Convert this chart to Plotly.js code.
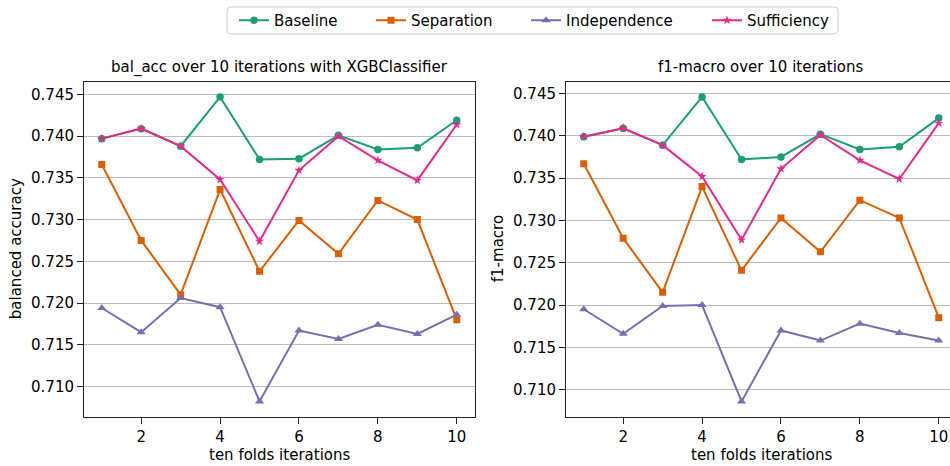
<!DOCTYPE html>
<html>
<head>
<meta charset="utf-8">
<script src="https://cdn.plot.ly/plotly-3.0.1.min.js"></script>
<style>html,body{margin:0;padding:0;background:#fff;}#chart{width:950px;height:466px;}</style>
</head>
<body>
<div id="chart"></div>
<script>
const iterations = [1, 2, 3, 4, 5, 6, 7, 8, 9, 10];
const seriesNames = ["Baseline", "Separation", "Independence", "Sufficiency"];

const balBaseline     = [0.7397, 0.7409, 0.7388, 0.7447, 0.7372, 0.7373, 0.7401, 0.7384, 0.7386, 0.7419];
const balSeparation   = [0.7366, 0.7275, 0.7210, 0.7336, 0.7238, 0.7299, 0.7259, 0.7323, 0.7300, 0.7180];
const balIndependence = [0.7194, 0.7165, 0.7206, 0.7195, 0.7082, 0.7167, 0.7157, 0.7174, 0.7163, 0.7186];
const balSufficiency  = [0.7397, 0.7409, 0.7388, 0.7348, 0.7274, 0.7359, 0.7400, 0.7371, 0.7347, 0.7414];

const f1Baseline      = [0.7399, 0.7409, 0.7389, 0.7446, 0.7372, 0.7375, 0.7402, 0.7384, 0.7387, 0.7421];
const f1Separation    = [0.7367, 0.7279, 0.7215, 0.7340, 0.7241, 0.7303, 0.7263, 0.7324, 0.7303, 0.7185];
const f1Independence  = [0.7195, 0.7166, 0.7199, 0.7200, 0.7086, 0.7170, 0.7158, 0.7178, 0.7167, 0.7158];
const f1Sufficiency   = [0.7399, 0.7409, 0.7389, 0.7352, 0.7277, 0.7361, 0.7401, 0.7371, 0.7349, 0.7415];

const xTicks = [2, 4, 6, 8, 10];
const yTicks = [0.710, 0.715, 0.720, 0.725, 0.730, 0.735, 0.740, 0.745];
const yTickText = ["0.710", "0.715", "0.720", "0.725", "0.730", "0.735", "0.740", "0.745"];

const leftTitle = "bal_acc over 10 iterations with XGBClassifier";
const rightTitle = "f1-macro over 10 iterations";
const xLabel = "ten folds iterations";
const leftYLabel = "balanced accuracy";
const rightYLabel = "f1-macro";

const colors = ["#1b9e77", "#d95f02", "#7570b3", "#e7298a"];
const symbols = ["circle", "square", "triangle-up", "star"];
const sizes = [7.5, 7, 8, 7];
const legendIds = ["legend", "legend2", "legend3", "legend4"];

const W = 950, H = 466;
const px = v => v / W;
const py = v => 1 - v / H;
const FONT = "DejaVu Sans, sans-serif";

function padRange(arrs) {
  const all = [].concat(...arrs);
  const mn = Math.min(...all), mx = Math.max(...all);
  const d = (mx - mn) * 0.05;
  return [mn - d, mx + d];
}

const leftData = [balBaseline, balSeparation, balIndependence, balSufficiency];
const rightData = [f1Baseline, f1Separation, f1Independence, f1Sufficiency];

const traces = [];
leftData.forEach((ys, i) => {
  traces.push({
    x: iterations, y: ys, name: seriesNames[i], type: "scatter", mode: "lines+markers",
    xaxis: "x", yaxis: "y", legend: legendIds[i],
    line: {color: colors[i], width: 2},
    marker: {color: colors[i], symbol: symbols[i], size: sizes[i]},
    hoverinfo: "x+y+name"
  });
});
rightData.forEach((ys, i) => {
  traces.push({
    x: iterations, y: ys, name: seriesNames[i], type: "scatter", mode: "lines+markers",
    xaxis: "x2", yaxis: "y2", showlegend: false,
    line: {color: colors[i], width: 2},
    marker: {color: colors[i], symbol: symbols[i], size: sizes[i]},
    hoverinfo: "x+y+name"
  });
});

const axisCommon = {
  ticks: "outside", ticklen: 6, tickwidth: 1, tickcolor: "#222",
  showline: true, linecolor: "#222", linewidth: 1,
  zeroline: false,
  tickfont: {family: FONT, size: 15, color: "#000"}
};

const plotTop = 81.7, plotBottom = 416.7;
const yDomain = [py(plotBottom), py(plotTop)];
const leftX0 = 84, leftX1 = 474.5, rightX0 = 566;
const xr0 = 0.55, xr1 = 10.45;
const pxPerUnit = (leftX1 - leftX0) / (xr1 - xr0);

const legendTextX = [277, 414, 569, 750];
const legends = {};
legendIds.forEach((id, i) => {
  legends[id] = {
    x: px(legendTextX[i] - 43), y: py(20.5), xanchor: "left", yanchor: "middle",
    orientation: "h", bgcolor: "rgba(0,0,0,0)", borderwidth: 0,
    font: {family: FONT, size: 15, color: "#000"}
  };
});

function roundRectPath(x0, y0, x1, y1, r) {
  const rx = r / W, ry = r / H;
  const X0 = px(x0), X1 = px(x1), Y0 = py(y0), Y1 = py(y1);
  return `M${X0 + rx},${Y0} L${X1 - rx},${Y0} Q${X1},${Y0} ${X1},${Y0 - ry} ` +
         `L${X1},${Y1 + ry} Q${X1},${Y1} ${X1 - rx},${Y1} L${X0 + rx},${Y1} ` +
         `Q${X0},${Y1} ${X0},${Y1 + ry} L${X0},${Y0 - ry} Q${X0},${Y0} ${X0 + rx},${Y0} Z`;
}

const ann = (text, x, y, extra) => Object.assign({
  text, xref: "paper", yref: "paper", x: px(x), y: py(y),
  xanchor: "center", yanchor: "middle", showarrow: false,
  font: {family: FONT, size: 15, color: "#000"}
}, extra || {});

const layout = Object.assign({
  width: W, height: H,
  margin: {l: 0, r: 0, t: 0, b: 0, pad: 0},
  paper_bgcolor: "#fff", plot_bgcolor: "#fff",
  showlegend: true,
  xaxis: Object.assign({}, axisCommon, {
    domain: [px(leftX0), px(leftX1)], range: [xr0, xr1], anchor: "y",
    tickvals: xTicks, showgrid: false, mirror: true
  }),
  yaxis: Object.assign({}, axisCommon, {
    domain: yDomain, range: padRange(leftData), anchor: "x",
    tickvals: yTicks, ticktext: yTickText,
    showgrid: true, gridcolor: "#bdbdbd", gridwidth: 1, mirror: true
  }),
  xaxis2: Object.assign({}, axisCommon, {
    domain: [px(rightX0), 1], range: [xr0, xr0 + (W - rightX0) / pxPerUnit], anchor: "y2",
    tickvals: xTicks, showgrid: false, mirror: true
  }),
  yaxis2: Object.assign({}, axisCommon, {
    domain: yDomain, range: padRange(rightData), anchor: "x2",
    tickvals: yTicks, ticktext: yTickText,
    showgrid: true, gridcolor: "#bdbdbd", gridwidth: 1, mirror: false
  }),
  shapes: [{
    type: "path", xref: "paper", yref: "paper",
    path: roundRectPath(227, 7, 838, 34, 4),
    line: {color: "#cccccc", width: 1}, fillcolor: "rgba(255,255,255,0.8)", layer: "below"
  }],
  annotations: [
    ann(leftTitle, (leftX0 + leftX1) / 2, 67),
    ann(rightTitle, (rightX0 + rightX0 + (leftX1 - leftX0)) / 2, 67),
    ann(xLabel, (leftX0 + leftX1) / 2, 455),
    ann(xLabel, (rightX0 + rightX0 + (leftX1 - leftX0)) / 2, 455),
    ann(leftYLabel, 16, (plotTop + plotBottom) / 2, {textangle: -90}),
    ann(rightYLabel, 498, (plotTop + plotBottom) / 2, {textangle: -90})
  ]
}, legends);

Plotly.newPlot("chart", traces, layout, {displayModeBar: false, staticPlot: true});
</script>
</body>
</html>
